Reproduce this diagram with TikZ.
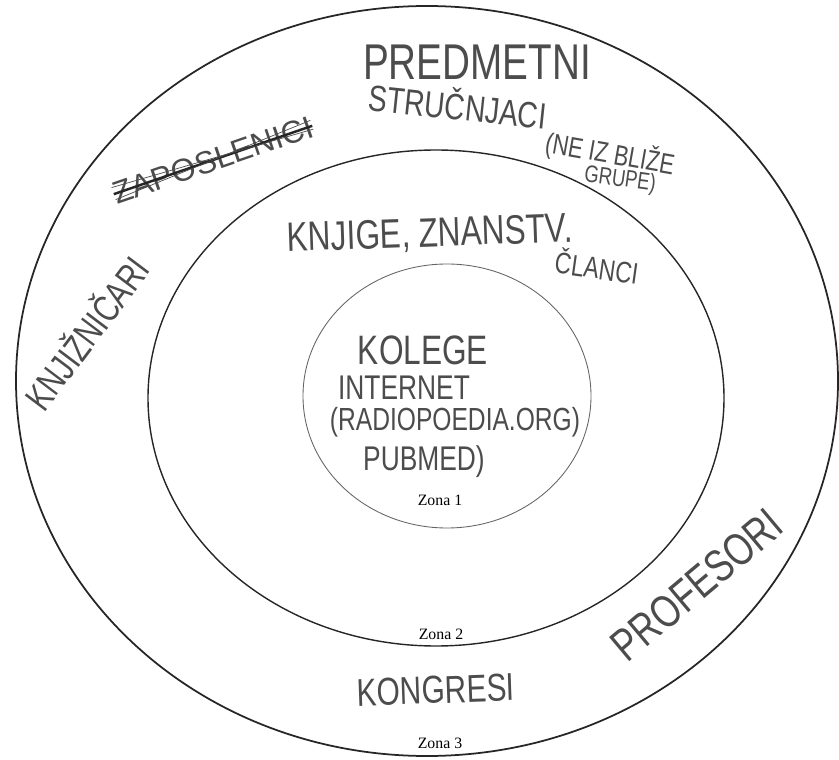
\documentclass[tikz,border=0pt]{standalone}
\usepackage{fontspec}
\usepackage{graphicx}
\setmainfont{Liberation Sans}
\newfontfamily\zonafont{Liberation Serif}
\newcommand\tall[1]{\scalebox{1}[1.3]{#1}}
\usetikzlibrary{calc,positioning}

\begin{document}
\begin{tikzpicture}[x=0.02cm,y=-0.02cm]
       \tikzstyle{hand}=[inner sep=0pt, text=black!70]
       \tikzstyle{zone}=[inner sep=0pt, font=\zonafont\fontsize{9}{10}\selectfont]
       \tikzstyle{ring}=[draw=black!85]

       \useasboundingbox (0,0) rectangle (839,760);

       % the three zones
       \coordinate (c_out) at (427,381);
       \coordinate (c_mid) at (436,398);
       \coordinate (c_in)  at (447,396);
       \draw[ring, line width=1pt]   (c_out) ellipse [x radius=411, y radius=375];
       \draw[ring, line width=0.8pt] (c_mid) ellipse [x radius=288, y radius=248];
       \draw[ring, line width=0.5pt, draw=black!60] (c_in) ellipse [x radius=144, y radius=132];

       \node[zone] (zona_1) at (440,500) {Zona 1};
       \node[zone] (zona_2) at (441,634) {Zona 2};
       \node[zone] (zona_3) at (440,743) {Zona 3};

       % zona 1
       \node[hand, font=\fontsize{18}{20}\selectfont] (kolege)   at (423,350) {\tall{KOLEGE}};
       \node[hand, font=\fontsize{15}{17}\selectfont] (internet) at (404,388) {\tall{INTERNET}};
       \node[hand, font=\fontsize{14}{16}\selectfont] (radio)    at (455,422) {\tall{(RADIOPOEDIA.ORG)}};
       \node[hand, font=\fontsize{15}{17}\selectfont] (pubmed)   at (424,462) {\tall{PUBMED)}};

       % zona 2
       \node[hand, font=\fontsize{18}{20}\selectfont, rotate=2] (knjige) at (430,235) {\tall{KNJIGE, ZNANSTV.}};
       \node[hand, font=\fontsize{13}{15}\selectfont, rotate=-8] (clanci) at (597,266) {\tall{ČLANCI}};

       % zona 3
       \node[hand, font=\fontsize{22}{24}\selectfont] (predmetni) at (477,62) {\tall{PREDMETNI}};
       \node[hand, font=\fontsize{16}{18}\selectfont, rotate=-6] (strucnjaci) at (458,104) {\tall{STRUČNJACI}};
       \node[hand, font=\fontsize{12.5}{14}\selectfont, rotate=-10] (ne_iz) at (610,154) {\tall{(NE IZ BLIŽE}};
       \node[hand, font=\fontsize{10.5}{12}\selectfont, rotate=-8] (grupe) at (620,180) {\tall{GRUPE)}};
       \node[hand, font=\fontsize{16.5}{18}\selectfont, rotate=53] (knjiznicari) at (85,332) {\tall{KNJIŽNIČARI}};
       \node[hand, font=\fontsize{17}{19}\selectfont, rotate=2] (kongresi) at (436,690) {\tall{KONGRESI}};
       \node[hand, font=\fontsize{20}{22}\selectfont, rotate=40] (profesori) at (697,585) {\tall{PROFESORI}};

       \node[hand, font=\fontsize{18}{20}\selectfont, rotate=19] (struck) at (213,160) {ZAPOSLENICI};
       \draw[black!85, line width=1.4pt] (struck.west) -- (struck.east);
       \draw[black!70] ($(struck.west)!0.5!(struck.south west)$) -- ($(struck.east)!0.5!(struck.north east)$);
       \draw[black!70] ($(struck.west)!0.6!(struck.north west)$) -- ($(struck.east)!0.3!(struck.south east)$);
\end{tikzpicture}
\end{document}
